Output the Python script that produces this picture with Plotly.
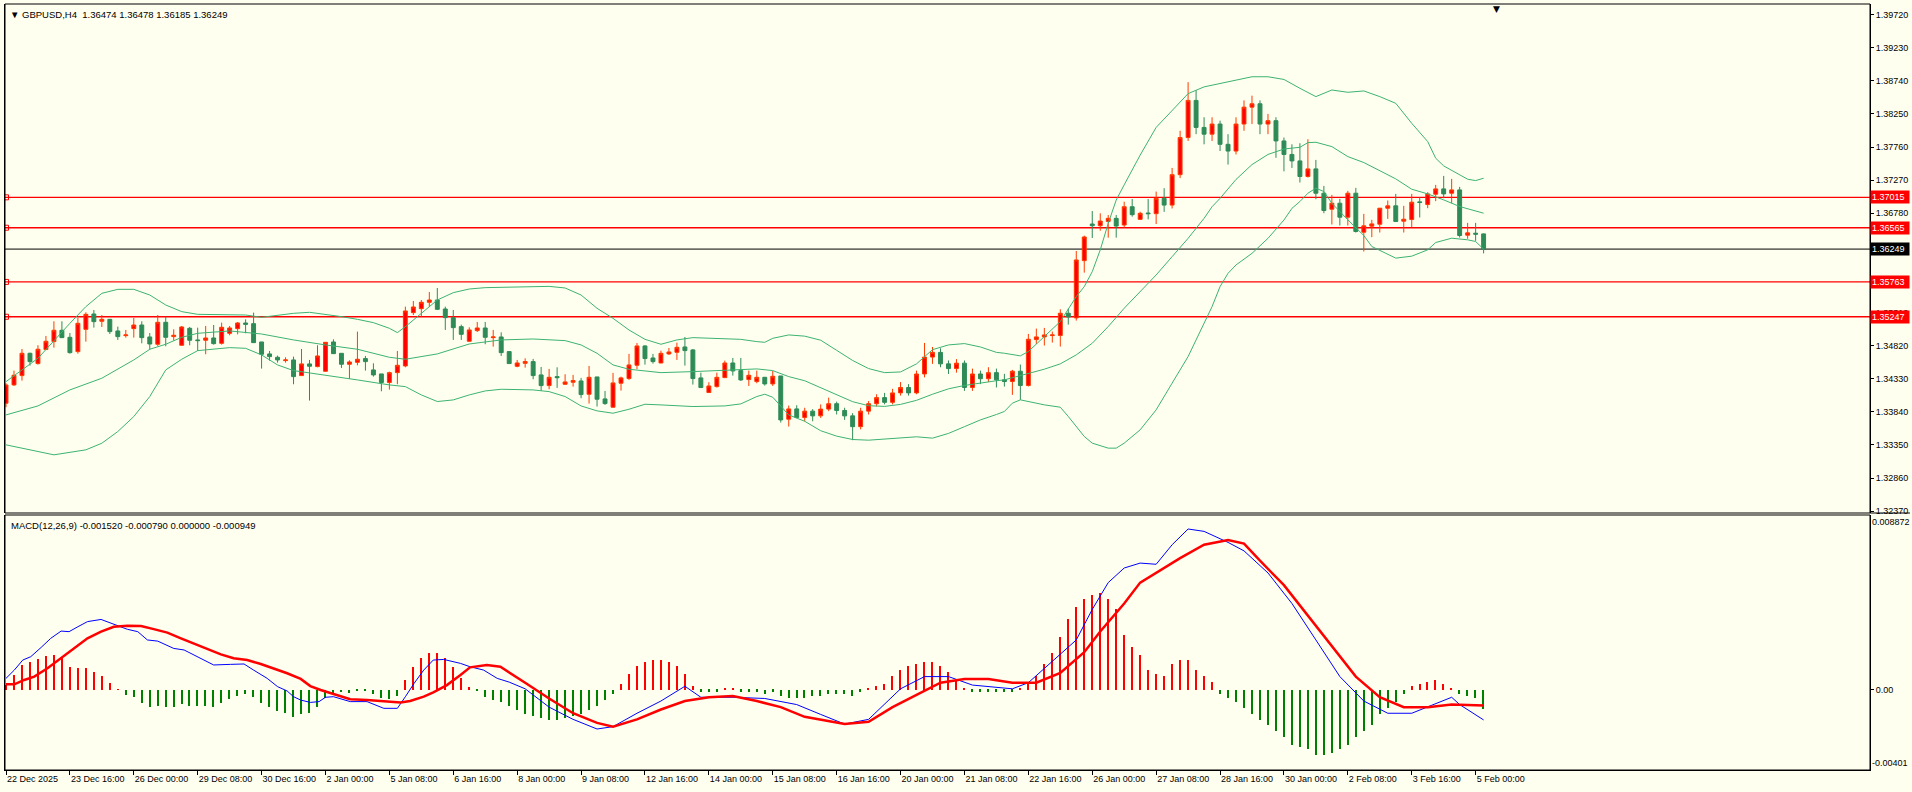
import plotly.graph_objects as go

FONT = "Liberation Sans"
BG = "#FFFFF0"

title_text = "GBPUSD,H4  1.36474 1.36478 1.36185 1.36249"
macd_text = "MACD(12,26,9) -0.001520 -0.000790 0.000000 -0.000949"

# ---- time axis (bar index of each label) ----
tick_bars = [0, 8, 16, 24, 32, 40, 48, 56, 64, 72, 80, 88, 96, 104, 112, 120,
             128, 136, 144, 152, 160, 168, 176, 184]
tick_labels = ["22 Dec 2025", "23 Dec 16:00", "26 Dec 00:00", "29 Dec 08:00", "30 Dec 16:00",
               "2 Jan 00:00", "5 Jan 08:00", "6 Jan 16:00", "8 Jan 00:00", "9 Jan 08:00",
               "12 Jan 16:00", "14 Jan 00:00", "15 Jan 08:00", "16 Jan 16:00", "20 Jan 00:00",
               "21 Jan 08:00", "22 Jan 16:00", "26 Jan 00:00", "27 Jan 08:00", "28 Jan 16:00",
               "30 Jan 00:00", "2 Feb 08:00", "3 Feb 16:00", "5 Feb 00:00"]

price_ticks = [1.39720, 1.39230, 1.38740, 1.38250, 1.37760, 1.37270, 1.36780, 1.36290,
               1.35800, 1.35310, 1.34820, 1.34330, 1.33840, 1.33350, 1.32860, 1.32370]
red_levels = [1.37015, 1.36565, 1.35763, 1.35247]
bid_level = 1.36249
macd_max_label = "0.008872"
macd_min_label = "-0.00401"

# ---- H4 candles ----
opens = [1.33967, 1.34238, 1.34376, 1.34706, 1.34554, 1.34761, 1.34879, 1.35047, 1.34943, 1.34731,
         1.35061, 1.35288, 1.35180, 1.35209, 1.35037, 1.34968, 1.35071, 1.35125, 1.34948, 1.34840,
         1.35165, 1.34953, 1.34825, 1.35076, 1.34904, 1.34899, 1.34933, 1.34854, 1.35002, 1.35071,
         1.35155, 1.35145, 1.34874, 1.34697, 1.34647, 1.34598, 1.34608, 1.34376, 1.34549, 1.34509,
         1.34440, 1.34874, 1.34706, 1.34544, 1.34573, 1.34628, 1.34460, 1.34401, 1.34273, 1.34420,
         1.34519, 1.35308, 1.35367, 1.35461, 1.35495, 1.35362, 1.35234, 1.35101, 1.34884, 1.35042,
         1.35081, 1.34938, 1.34948, 1.34731, 1.34514, 1.34558, 1.34583, 1.34386, 1.34228, 1.34361,
         1.34248, 1.34278, 1.34297, 1.34100, 1.34356, 1.34031, 1.33908, 1.34263, 1.34332, 1.34529,
         1.34815, 1.34637, 1.34563, 1.34697, 1.34721, 1.34800, 1.34756, 1.34342, 1.34125, 1.34213,
         1.34346, 1.34563, 1.34450, 1.34317, 1.34287, 1.34351, 1.34253, 1.34371, 1.33730, 1.33883,
         1.33755, 1.33850, 1.33780, 1.33880, 1.33960, 1.33860, 1.33780, 1.33620, 1.33850, 1.33960,
         1.34050, 1.33980, 1.34120, 1.34200, 1.34120, 1.34400, 1.34650, 1.34720, 1.34550, 1.34480,
         1.34560, 1.34200, 1.34400, 1.34330, 1.34420, 1.34313, 1.34288, 1.34441, 1.34229, 1.34909,
         1.34949, 1.34969, 1.34969, 1.35299, 1.35230, 1.36078, 1.36620, 1.36595, 1.36659, 1.36704,
         1.36605, 1.36876, 1.36689, 1.36783, 1.36773, 1.37000, 1.36900, 1.37350, 1.37900, 1.38450,
         1.38050, 1.37950, 1.38100, 1.37800, 1.37700, 1.38100, 1.38350, 1.38400, 1.38100, 1.38150,
         1.37850, 1.37650, 1.37554, 1.37323, 1.37436, 1.37076, 1.36839, 1.36928, 1.36721, 1.37076,
         1.36499, 1.36588, 1.36617, 1.36854, 1.36889, 1.36662, 1.36686, 1.36948, 1.36908, 1.37061,
         1.37140, 1.37076, 1.37125, 1.36455, 1.36484, 1.36474]
highs = [1.34263, 1.34450, 1.34770, 1.34716, 1.34825, 1.34963, 1.35180, 1.35180, 1.35007, 1.35229,
         1.35313, 1.35347, 1.35273, 1.35214, 1.35101, 1.35052, 1.35229, 1.35180, 1.35007, 1.35273,
         1.35249, 1.35061, 1.35111, 1.35096, 1.35086, 1.35111, 1.35125, 1.35160, 1.35111, 1.35170,
         1.35209, 1.35308, 1.34874, 1.34741, 1.34672, 1.34647, 1.34657, 1.34770, 1.34608, 1.34825,
         1.34869, 1.34913, 1.34706, 1.34603, 1.35027, 1.34667, 1.34558, 1.34401, 1.34435, 1.34741,
         1.35397, 1.35480, 1.35495, 1.35613, 1.35673, 1.35397, 1.35347, 1.35130, 1.35091, 1.35170,
         1.35170, 1.35052, 1.35017, 1.34736, 1.34608, 1.34632, 1.34623, 1.34504, 1.34475, 1.34499,
         1.34396, 1.34386, 1.34342, 1.34519, 1.34356, 1.34149, 1.34416, 1.34361, 1.34697, 1.34859,
         1.34825, 1.34697, 1.34746, 1.34785, 1.34864, 1.34948, 1.34770, 1.34420, 1.34278, 1.34420,
         1.34598, 1.34637, 1.34637, 1.34450, 1.34450, 1.34356, 1.34445, 1.34371, 1.33932, 1.33937,
         1.33900, 1.33880, 1.33950, 1.34050, 1.33990, 1.33900, 1.33820, 1.33900, 1.34000, 1.34100,
         1.34120, 1.34180, 1.34280, 1.34250, 1.34450, 1.34860, 1.34800, 1.34780, 1.34600, 1.34620,
         1.34600, 1.34480, 1.34450, 1.34500, 1.34480, 1.34402, 1.34461, 1.34540, 1.34993, 1.35072,
         1.35082, 1.35028, 1.35358, 1.35368, 1.36221, 1.36448, 1.36812, 1.36778, 1.36753, 1.36753,
         1.36950, 1.36990, 1.36802, 1.36990, 1.37100, 1.37150, 1.37450, 1.38000, 1.38720, 1.38600,
         1.38200, 1.38200, 1.38150, 1.37950, 1.38200, 1.38450, 1.38520, 1.38450, 1.38250, 1.38200,
         1.37900, 1.37800, 1.37816, 1.37875, 1.37569, 1.37184, 1.37051, 1.36992, 1.37111, 1.37155,
         1.36770, 1.36682, 1.36854, 1.36968, 1.37066, 1.36889, 1.37066, 1.37017, 1.37091, 1.37199,
         1.37332, 1.37288, 1.37170, 1.36637, 1.36637, 1.36478]
lows = [1.33908, 1.34223, 1.34302, 1.34524, 1.34539, 1.34756, 1.34790, 1.34938, 1.34701, 1.34701,
        1.34879, 1.35086, 1.35096, 1.34992, 1.34904, 1.34938, 1.34938, 1.34854, 1.34761, 1.34815,
        1.34810, 1.34894, 1.34820, 1.34825, 1.34741, 1.34692, 1.34835, 1.34835, 1.34973, 1.34987,
        1.35002, 1.34864, 1.34480, 1.34598, 1.34568, 1.34568, 1.34248, 1.34376, 1.34006, 1.34499,
        1.34435, 1.34701, 1.34489, 1.34327, 1.34529, 1.34450, 1.34361, 1.34144, 1.34169, 1.34248,
        1.34499, 1.35273, 1.35249, 1.35397, 1.35347, 1.35052, 1.34904, 1.34904, 1.34879, 1.35022,
        1.34840, 1.34805, 1.34667, 1.34554, 1.34499, 1.34494, 1.34322, 1.34149, 1.34174, 1.34194,
        1.34243, 1.34213, 1.34041, 1.33962, 1.33918, 1.33942, 1.33903, 1.34154, 1.34312, 1.34470,
        1.34539, 1.34554, 1.34558, 1.34682, 1.34608, 1.34524, 1.34243, 1.34199, 1.34120, 1.34199,
        1.34342, 1.34376, 1.34297, 1.34223, 1.34263, 1.34228, 1.34223, 1.33681, 1.33622, 1.33745,
        1.33700, 1.33700, 1.33750, 1.33850, 1.33800, 1.33720, 1.33420, 1.33580, 1.33800, 1.33920,
        1.33950, 1.33950, 1.34080, 1.34080, 1.34100, 1.34350, 1.34550, 1.34500, 1.34400, 1.34420,
        1.34150, 1.34150, 1.34250, 1.34280, 1.34200, 1.34214, 1.34091, 1.34017, 1.34214, 1.34845,
        1.34821, 1.34865, 1.34806, 1.35131, 1.35190, 1.35900, 1.36413, 1.36521, 1.36418, 1.36418,
        1.36566, 1.36729, 1.36679, 1.36689, 1.36620, 1.36800, 1.36850, 1.37300, 1.37850, 1.37950,
        1.37800, 1.37850, 1.37700, 1.37500, 1.37650, 1.38000, 1.38100, 1.37950, 1.37950, 1.37600,
        1.37400, 1.37450, 1.37234, 1.37308, 1.36987, 1.36780, 1.36613, 1.36598, 1.36598, 1.36494,
        1.36213, 1.36425, 1.36494, 1.36696, 1.36657, 1.36494, 1.36568, 1.36716, 1.36854, 1.36958,
        1.37002, 1.36928, 1.36420, 1.36401, 1.36371, 1.36185]
closes = [1.34238, 1.34381, 1.34706, 1.34583, 1.34766, 1.34884, 1.35047, 1.34938, 1.34716, 1.35150,
          1.35283, 1.35175, 1.35209, 1.35027, 1.34953, 1.34978, 1.35125, 1.34938, 1.34844, 1.35165,
          1.34943, 1.34973, 1.35096, 1.34899, 1.34894, 1.34933, 1.34849, 1.35091, 1.35081, 1.35155,
          1.35135, 1.34864, 1.34692, 1.34657, 1.34608, 1.34608, 1.34361, 1.34549, 1.34514, 1.34667,
          1.34869, 1.34701, 1.34544, 1.34578, 1.34618, 1.34583, 1.34386, 1.34273, 1.34420, 1.34529,
          1.35333, 1.35392, 1.35461, 1.35495, 1.35357, 1.35234, 1.35086, 1.34987, 1.35052, 1.35081,
          1.34943, 1.34948, 1.34716, 1.34554, 1.34563, 1.34583, 1.34376, 1.34228, 1.34351, 1.34346,
          1.34282, 1.34302, 1.34095, 1.34351, 1.34026, 1.33962, 1.34268, 1.34342, 1.34534, 1.34815,
          1.34628, 1.34583, 1.34706, 1.34726, 1.34795, 1.34746, 1.34332, 1.34199, 1.34223, 1.34351,
          1.34563, 1.34445, 1.34312, 1.34381, 1.34351, 1.34253, 1.34366, 1.33720, 1.33883, 1.33755,
          1.33850, 1.33780, 1.33880, 1.33960, 1.33860, 1.33780, 1.33620, 1.33850, 1.33960, 1.34050,
          1.33980, 1.34120, 1.34200, 1.34120, 1.34400, 1.34650, 1.34720, 1.34550, 1.34480, 1.34560,
          1.34200, 1.34400, 1.34330, 1.34420, 1.34313, 1.34288, 1.34441, 1.34229, 1.34914, 1.34949,
          1.34978, 1.34978, 1.35299, 1.35245, 1.36088, 1.36428, 1.36595, 1.36664, 1.36704, 1.36590,
          1.36876, 1.36758, 1.36778, 1.36773, 1.37000, 1.36900, 1.37350, 1.37900, 1.38450, 1.38050,
          1.37950, 1.38100, 1.37800, 1.37700, 1.38100, 1.38350, 1.38400, 1.38100, 1.38150, 1.37850,
          1.37650, 1.37554, 1.37323, 1.37436, 1.37076, 1.36820, 1.36928, 1.36721, 1.37076, 1.36509,
          1.36593, 1.36622, 1.36854, 1.36889, 1.36657, 1.36691, 1.36943, 1.36938, 1.37066, 1.37140,
          1.37066, 1.37125, 1.36450, 1.36489, 1.36470, 1.36249]

# ---- Bollinger bands (read at sampled bars) ----
bb_up_x = [0, 4, 8, 10, 12, 14, 16, 18, 20, 22, 24, 28, 30, 32, 34, 36, 38, 40, 42, 44, 46, 48, 49,
           50, 52, 54, 56, 58, 60, 64, 68, 70, 72, 74, 76, 78, 80, 82, 84, 86, 90, 92, 94, 95, 96, 98,
           100, 102, 104, 106, 108, 110, 112, 114, 116, 118, 120, 122, 124, 125, 127, 128, 130, 132,
           134, 135, 136, 137, 138, 139, 140, 142, 144, 146, 148, 150, 152, 154, 156, 158, 160, 162,
           164, 166, 168, 170, 172, 174, 176, 178, 179, 180, 181, 182, 183, 184, 185]
bb_up = [1.34287, 1.34632, 1.35150, 1.35397, 1.35594, 1.35653, 1.35653, 1.35569, 1.35421, 1.35323,
         1.35283, 1.35283, 1.35273, 1.35239, 1.35268, 1.35298, 1.35313, 1.35283, 1.35249, 1.35209,
         1.35160, 1.35076, 1.35012, 1.35100, 1.35298, 1.35495, 1.35604, 1.35658, 1.35678, 1.35683,
         1.35697, 1.35673, 1.35569, 1.35372, 1.35224, 1.35051, 1.34913, 1.34840, 1.34904, 1.34938,
         1.34928, 1.34913, 1.34879, 1.34869, 1.34928, 1.34978, 1.34960, 1.34900, 1.34750, 1.34600,
         1.34480, 1.34420, 1.34430, 1.34550, 1.34760, 1.34830, 1.34850, 1.34800, 1.34720, 1.34707,
         1.34668, 1.34732, 1.34954, 1.35176, 1.35545, 1.35693, 1.35915, 1.36236, 1.36630, 1.36975,
         1.37200, 1.37640, 1.38050, 1.38300, 1.38550, 1.38650, 1.38700, 1.38750, 1.38800, 1.38800,
         1.38760, 1.38629, 1.38506, 1.38604, 1.38570, 1.38590, 1.38506, 1.38407, 1.38111, 1.37840,
         1.37594, 1.37480, 1.37411, 1.37347, 1.37283, 1.37263, 1.37298]
bb_mid_x = [0, 4, 8, 12, 16, 18, 20, 22, 24, 28, 32, 36, 40, 44, 48, 50, 54, 58, 62, 66, 70, 72, 74,
            76, 78, 82, 86, 90, 94, 96, 98, 100, 102, 104, 106, 108, 110, 112, 114, 116, 118, 120,
            122, 124, 125, 128, 130, 132, 134, 136, 138, 140, 142, 144, 146, 148, 150, 151, 152, 154,
            156, 158, 160, 162, 163, 164, 166, 168, 170, 172, 174, 176, 178, 180, 182, 185]
bb_mid = [1.33794, 1.33927, 1.34164, 1.34337, 1.34608, 1.34766, 1.34840, 1.34943, 1.35002, 1.35037,
          1.34992, 1.34904, 1.34830, 1.34766, 1.34647, 1.34618, 1.34697, 1.34844, 1.34904, 1.34918,
          1.34894, 1.34830, 1.34706, 1.34534, 1.34470, 1.34420, 1.34435, 1.34460, 1.34475, 1.34450,
          1.34361, 1.34300, 1.34200, 1.34100, 1.33990, 1.33930, 1.33920, 1.33950, 1.34010, 1.34100,
          1.34180, 1.34230, 1.34270, 1.34300, 1.34313, 1.34402, 1.34471, 1.34550, 1.34683, 1.34855,
          1.35102, 1.35373, 1.35619, 1.35866, 1.36137, 1.36408, 1.36704, 1.36876, 1.37000, 1.37280,
          1.37500, 1.37650, 1.37730, 1.37756, 1.37825, 1.37830, 1.37766, 1.37618, 1.37530, 1.37406,
          1.37288, 1.37135, 1.37066, 1.36977, 1.36879, 1.36780]
bb_lo_x = [0, 4, 6, 10, 12, 14, 16, 18, 20, 22, 24, 28, 30, 32, 34, 36, 40, 44, 48, 50, 52, 54, 56,
           58, 60, 62, 66, 68, 70, 72, 74, 76, 78, 80, 82, 86, 90, 92, 94, 95, 96, 98, 100, 102, 104,
           106, 108, 110, 112, 114, 116, 118, 120, 122, 124, 125, 126, 127, 130, 132, 133, 134, 135,
           136, 138, 139, 140, 142, 144, 146, 148, 149, 150, 151, 152, 153, 154, 156, 158, 160, 161,
           162, 163, 164, 165, 166, 168, 170, 171, 173, 174, 176, 178, 179, 181, 183, 184, 185]
bb_lo = [1.33351, 1.33252, 1.33203, 1.33277, 1.33375, 1.33548, 1.33770, 1.34066, 1.34460, 1.34618,
         1.34746, 1.34790, 1.34780, 1.34682, 1.34534, 1.34450, 1.34386, 1.34312, 1.34238, 1.34213,
         1.34090, 1.33992, 1.34016, 1.34090, 1.34149, 1.34174, 1.34164, 1.34139, 1.34066, 1.33927,
         1.33854, 1.33819, 1.33878, 1.33952, 1.33942, 1.33918, 1.33927, 1.33957, 1.34066, 1.34100,
         1.34056, 1.33794, 1.33700, 1.33560, 1.33480, 1.33430, 1.33420, 1.33440, 1.33460, 1.33470,
         1.33450, 1.33520, 1.33620, 1.33720, 1.33800, 1.33845, 1.33968, 1.34017, 1.33943, 1.33908,
         1.33771, 1.33623, 1.33475, 1.33376, 1.33302, 1.33302, 1.33376, 1.33573, 1.33869, 1.34264,
         1.34658, 1.34904, 1.35151, 1.35397, 1.35693, 1.35890, 1.36014, 1.36186, 1.36408, 1.36679,
         1.36852, 1.36953, 1.37076, 1.37150, 1.37101, 1.36928, 1.36682, 1.36450, 1.36287, 1.36174,
         1.36115, 1.36144, 1.36238, 1.36346, 1.36410, 1.36386, 1.36361, 1.36248]

# ---- MACD(12,26,9) ----
macd_x = [0, 1.04, 2.1, 3.1, 4.4, 5.6, 6.9, 7.9, 9, 10.2, 11.9, 13.5, 15.2, 16.5, 17.7, 19, 21, 22.3,
          24.4, 26, 28.1, 29.8, 31, 32.7, 34, 35.2, 36, 36.9, 38.1, 39.2, 40, 41, 43.1, 45.2, 47.3,
          49, 50, 51.1, 52.3, 53.5, 54.8, 56.9, 58.1, 59.8, 61.5, 63, 65, 68, 71, 74, 76, 79, 82, 85,
          87, 91, 95, 99, 102, 105, 108, 110, 112, 115, 118, 121, 126, 128, 130, 134, 136, 138, 140,
          142, 144, 146, 148, 150, 153, 155, 158, 161, 164, 167, 170, 173, 176, 178, 181, 182, 185]
macd_main = [0.00059, 0.00101, 0.00152, 0.00169, 0.00216, 0.00262, 0.00299, 0.00296, 0.00321, 0.00347,
             0.00358, 0.00335, 0.00308, 0.00296, 0.00254, 0.00248, 0.00211, 0.00203, 0.00161, 0.00127,
             0.00130, 0.00132, 0.00101, 0.00059, 0.00017, -0.00005, -0.00034, -0.00051, -0.00063,
             -0.00059, -0.00037, -0.00034, -0.00059, -0.00059, -0.00093, -0.00093, -0.00034, 0.00034,
             0.00101, 0.00152, 0.00155, 0.00135, 0.00118, 0.00101, 0.00059, 0.00040, 0.00006, -0.00087,
             -0.00149, -0.00198, -0.00186, -0.00118, -0.00056, 0.00019, -0.00037, -0.00037, -0.00043,
             -0.00074, -0.00124, -0.00173, -0.00149, -0.00074, 0.00006, 0.00068, 0.00068, 0.00025,
             0.00006, 0.00037, 0.00111, 0.00254, 0.00409, 0.00545, 0.00619, 0.00644, 0.00638, 0.00737,
             0.00817, 0.00805, 0.00749, 0.00706, 0.00594, 0.00439, 0.00254, 0.00068, -0.00056, -0.00118,
             -0.00118, -0.00087, -0.00037, -0.00074, -0.00152]
signal_x = [0, 1.04, 2.29, 3.54, 5.2, 6.9, 8.5, 10.2, 11.9, 13.5, 15.2, 16.9, 18.5, 20.2, 21.9, 23.5,
            25.2, 26.9, 28.5, 30.2, 31.9, 33.5, 35.2, 36.9, 38.1, 39.4, 41, 43.1, 45.2, 47.3, 49.4,
            50.6, 52.3, 53.5, 55.2, 56.9, 58.1, 60.2, 61.9, 65, 68, 71, 74, 76, 79, 82, 85, 88, 91, 94,
            97, 100, 105, 108, 111, 114, 117, 120, 123, 126, 129, 132, 135, 137, 140, 142, 144, 147,
            150, 153, 155, 157, 160, 163, 166, 169, 172, 175, 178, 181, 185]
macd_signal = [0.00029, 0.00029, 0.00051, 0.00068, 0.00110, 0.00161, 0.00211, 0.00262, 0.00296, 0.00321,
               0.00326, 0.00325, 0.00309, 0.00291, 0.00262, 0.00237, 0.00211, 0.00181, 0.00161, 0.00152,
               0.00132, 0.00110, 0.00085, 0.00056, 0.00020, 0.00000, -0.00020, -0.00047, -0.00051,
               -0.00059, -0.00064, -0.00056, -0.00034, -0.00012, 0.00025, 0.00076, 0.00115, 0.00127,
               0.00118, 0.00037, -0.00043, -0.00118, -0.00167, -0.00186, -0.00149, -0.00099, -0.00056,
               -0.00037, -0.00031, -0.00056, -0.00087, -0.00136, -0.00173, -0.00161, -0.00087, -0.00025,
               0.00037, 0.00056, 0.00056, 0.00037, 0.00037, 0.00087, 0.00192, 0.00297, 0.00439, 0.00545,
               0.00594, 0.00669, 0.00737, 0.00761, 0.00743, 0.00656, 0.00532, 0.00378, 0.00223, 0.00068,
               -0.00037, -0.00087, -0.00087, -0.00074, -0.00079]
macd_hist = [0.00025, 0.00076, 0.00127, 0.00144, 0.00155, 0.00172, 0.00177, 0.00164, 0.00118, 0.00110,
             0.00110, 0.00091, 0.00071, 0.00034, 0.00002, -0.00025, -0.00034, -0.00064, -0.00088, -0.00079,
             -0.00085, -0.00085, -0.00071, -0.00081, -0.00081, -0.00081, -0.00085, -0.00068, -0.00047, -0.00030,
             -0.00020, -0.00034, -0.00064, -0.00085, -0.00105, -0.00115, -0.00135, -0.00123, -0.00115, -0.00085,
             -0.00042, -0.00020, -0.00012, -0.00014, -0.00005, -0.00005, -0.00020, -0.00042, -0.00047, -0.00030,
             0.00051, 0.00115, 0.00161, 0.00186, 0.00186, 0.00161, 0.00115, 0.00059, 0.00017, -0.00002,
             -0.00037, -0.00051, -0.00060, -0.00080, -0.00100, -0.00120, -0.00130, -0.00140, -0.00150, -0.00150,
             -0.00140, -0.00130, -0.00120, -0.00100, -0.00080, -0.00050, -0.00020, 0.00030, 0.00080, 0.00120,
             0.00140, 0.00150, 0.00150, 0.00140, 0.00120, 0.00080, 0.00020, -0.00010, -0.00010, -0.00010,
             0.00010, 0.00010, -0.00010, -0.00010, -0.00010, -0.00020, -0.00010, -0.00030, -0.00040, -0.00040,
             -0.00040, -0.00030, -0.00030, -0.00020, -0.00020, -0.00020, -0.00030, -0.00010, 0.00010, 0.00020,
             0.00030, 0.00070, 0.00100, 0.00120, 0.00130, 0.00140, 0.00140, 0.00120, 0.00090, 0.00050,
             0.00010, -0.00010, -0.00010, -0.00010, -0.00010, -0.00010, -0.00010, 0.00010, 0.00040, 0.00070,
             0.00130, 0.00190, 0.00270, 0.00360, 0.00420, 0.00460, 0.00480, 0.00490, 0.00460, 0.00410,
             0.00280, 0.00220, 0.00180, 0.00100, 0.00080, 0.00070, 0.00130, 0.00150, 0.00150, 0.00100,
             0.00070, 0.00040, -0.00020, -0.00040, -0.00060, -0.00090, -0.00120, -0.00150, -0.00180, -0.00210,
             -0.00240, -0.00280, -0.00290, -0.00300, -0.00330, -0.00330, -0.00320, -0.00300, -0.00280, -0.00240,
             -0.00210, -0.00180, -0.00120, -0.00090, -0.00060, -0.00020, 0.00020, 0.00030, 0.00040, 0.00050,
             0.00030, 0.00010, -0.00020, -0.00030, -0.00040, -0.00095]

n = len(closes)
assert len(opens) == n and len(highs) == n and len(lows) == n and len(macd_hist) == n
bars = list(range(n))

# ---- layout geometry (pixels of the 1912x792 window) ----
W, H = 1912, 792
ML, MR, MT, MB = 4, 40, 4, 22
PW, PH = W - ML - MR, H - MT - MB
price_bottom_px, macd_top_px = 513, 515
price_dom = [(H - MB - price_bottom_px) / PH, 1.0]
macd_dom = [0.0, (H - MB - macd_top_px) / PH]

fig = go.Figure()

band_color = "#3CB371"
for bx, by in ((bb_up_x, bb_up), (bb_mid_x, bb_mid), (bb_lo_x, bb_lo)):
    fig.add_trace(go.Scatter(x=bx, y=by, mode="lines", line=dict(color=band_color, width=1),
                             hoverinfo="skip", showlegend=False, xaxis="x", yaxis="y"))

fig.add_trace(go.Candlestick(
    x=bars, open=opens, high=highs, low=lows, close=closes,
    increasing=dict(line=dict(color="#FF3A00", width=1), fillcolor="#FF0000"),
    decreasing=dict(line=dict(color="#2E8B57", width=1), fillcolor="#2E8B57"),
    whiskerwidth=0, showlegend=False, xaxis="x", yaxis="y"))

fig.add_trace(go.Scatter(x=[bars[0]] * len(red_levels), y=red_levels, mode="markers",
                         marker=dict(symbol="square-open", size=5, color="#FF0000",
                                     line=dict(width=1, color="#FF0000")),
                         hoverinfo="skip", showlegend=False, xaxis="x", yaxis="y"))

hist_colors = ["#FF0000" if v > 0 else "#008000" for v in macd_hist]
fig.add_trace(go.Bar(x=bars, y=macd_hist, marker=dict(color=hist_colors, line=dict(width=0)),
                     width=0.18, showlegend=False, xaxis="x", yaxis="y2"))
fig.add_trace(go.Scatter(x=macd_x, y=macd_main, mode="lines", line=dict(color="#0000FF", width=1),
                         showlegend=False, xaxis="x", yaxis="y2"))
fig.add_trace(go.Scatter(x=signal_x, y=macd_signal, mode="lines", line=dict(color="#FF0000", width=2.5),
                         showlegend=False, xaxis="x", yaxis="y2"))

shapes = []
for lv in red_levels:
    shapes.append(dict(type="line", xref="paper", x0=0, x1=1, yref="y", y0=lv, y1=lv,
                       line=dict(color="#FF0000", width=1.3), layer="below"))
shapes.append(dict(type="line", xref="paper", x0=0, x1=1, yref="y", y0=bid_level, y1=bid_level,
                   line=dict(color="#000000", width=1), layer="below"))
shapes.append(dict(type="rect", xref="paper", yref="paper", x0=0, x1=1, y0=price_dom[0], y1=1,
                   line=dict(color="#000000", width=1)))
shapes.append(dict(type="line", xref="paper", yref="paper", x0=1, x1=1 + MR / PW,
                   y0=price_dom[0], y1=price_dom[0], line=dict(color="#000000", width=1)))
shapes.append(dict(type="rect", xref="paper", yref="paper", x0=0, x1=1, y0=0, y1=macd_dom[1],
                   line=dict(color="#000000", width=1)))

FS = 9
font = dict(family=FONT, size=FS, color="#000000")
annotations = [
    dict(xref="paper", yref="paper", x=0, y=1, xanchor="left", yanchor="top", xshift=3, yshift=-3,
         text="\u25BC " + title_text, showarrow=False, font=dict(family=FONT, size=9.5, color="#000000")),
    dict(xref="paper", yref="paper", x=0, y=macd_dom[1], xanchor="left", yanchor="top", xshift=4,
         yshift=-3, text=macd_text, showarrow=False, font=dict(family=FONT, size=9.5, color="#000000")),
    dict(xref="paper", yref="paper", x=1, y=macd_dom[1], xanchor="left", yanchor="top", xshift=1,
         yshift=-1, text=macd_max_label, showarrow=False, font=font, borderpad=0),
    dict(xref="paper", yref="paper", x=1, y=0, xanchor="left", yanchor="bottom", xshift=1,
         yshift=1, text=macd_min_label, showarrow=False, font=font, borderpad=0),
    dict(xref="x", yref="paper", x=bars[-1] + 1.6, y=1, xanchor="center", yanchor="top", yshift=2,
         text="\u25BC", showarrow=False, font=dict(family="DejaVu Sans", size=9, color="#000000")),
]
for lv, bgc in [(v, "#FF0000") for v in red_levels] + [(bid_level, "#000000")]:
    annotations.append(dict(xref="paper", yref="y", x=1, y=lv, xanchor="left", yanchor="middle",
                            text=f"{lv:.5f}", showarrow=False, bgcolor=bgc, borderpad=1,
                            width=36, align="left", xshift=0,
                            font=dict(family=FONT, size=FS, color="#FFFFFF")))

fig.update_layout(
    width=W, height=H, margin=dict(l=ML, r=MR, t=MT, b=MB),
    paper_bgcolor=BG, plot_bgcolor=BG, showlegend=False, bargap=0,
    font=font, shapes=shapes, annotations=annotations, hovermode=False,
    xaxis=dict(range=[-0.125, 233.375], anchor="y2", tickmode="array", tickvals=tick_bars,
               ticktext=tick_labels, ticks="outside", ticklen=4, tickcolor="#000000", tickangle=0,
               showline=True, linecolor="#000000", linewidth=1, showgrid=False, zeroline=False,
               rangeslider=dict(visible=False), ticklabelposition="outside right",
               tickfont=font, fixedrange=True),
    yaxis=dict(domain=price_dom, range=[1.32342, 1.39877], side="right", anchor="x",
               tickmode="array", tickvals=price_ticks, ticktext=[f"{v:.5f}" for v in price_ticks],
               ticks="outside", ticklen=3, tickcolor="#000000", showline=True, linecolor="#000000",
               mirror=True, showgrid=False, zeroline=False, tickfont=font, fixedrange=True),
    yaxis2=dict(domain=macd_dom, range=[-0.00406, 0.00888], side="right", anchor="x",
                tickmode="array", tickvals=[0], ticktext=["0.00"], ticks="outside", ticklen=3,
                tickcolor="#000000", showline=True, linecolor="#000000", mirror=True,
                showgrid=False, zeroline=False, tickfont=font, fixedrange=True),
)

fig.write_html("out.html", config={"displayModeBar": False},
               post_script="document.body.style.margin='0';document.body.style.overflow='hidden';"
                           "document.body.style.background='" + BG + "';")
